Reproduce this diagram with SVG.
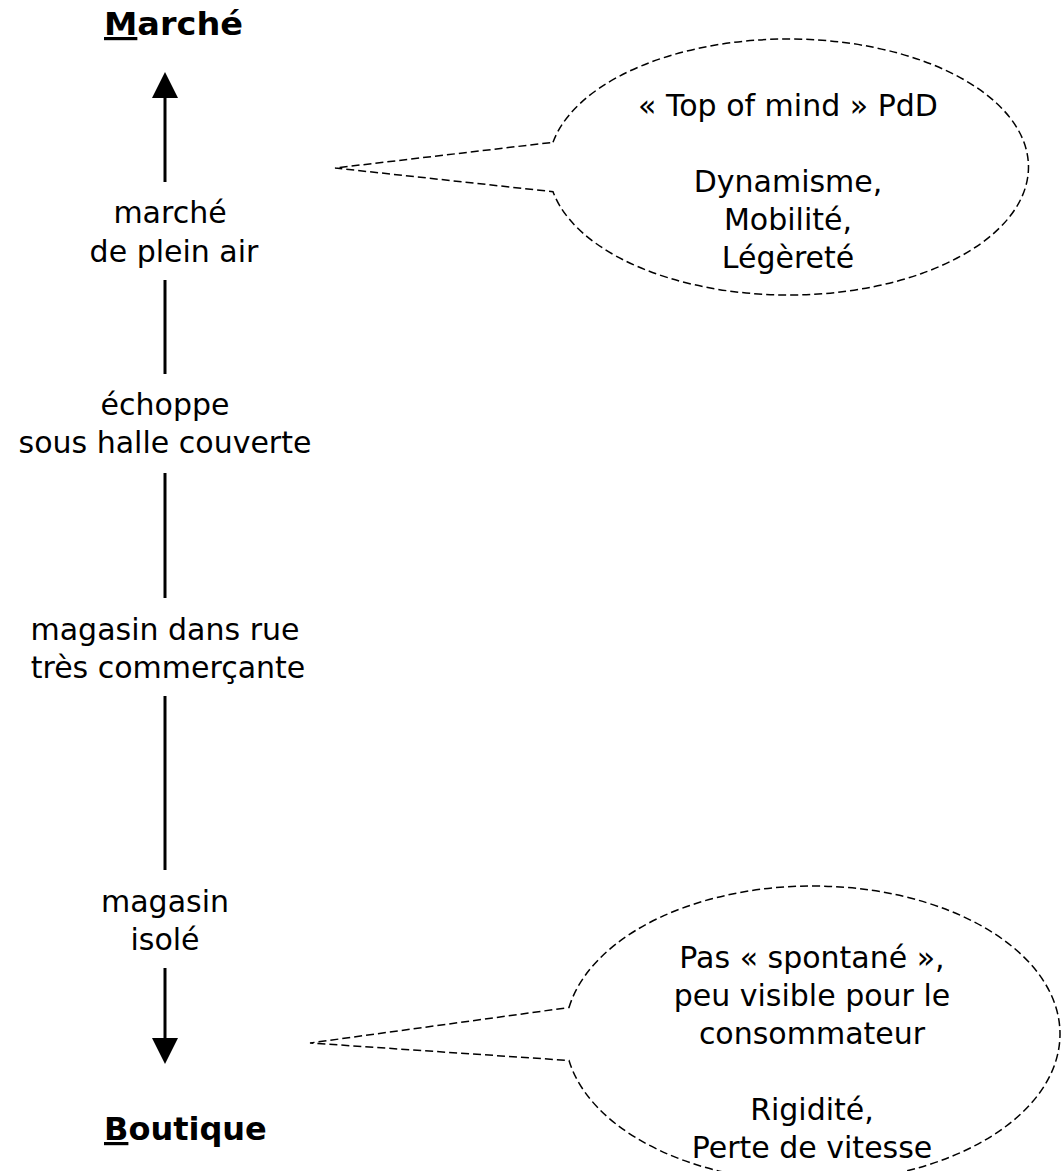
<svg xmlns="http://www.w3.org/2000/svg" width="1061" height="1171" viewBox="0 0 1061 1171">
  <style>
    text { font-family: "DejaVu Sans", "Liberation Sans", sans-serif; fill: #000; }
    .title { font-size: 32px; font-weight: bold; }
    .label { font-size: 30px; text-anchor: middle; }
    .ul { text-decoration: underline; }
    .axis { stroke: #000; stroke-width: 3; fill: none; }
    .bubble { stroke: #000; stroke-width: 1.5; stroke-dasharray: 8 4; fill: none; }
  </style>
  <defs>
    <marker id="arrow" markerUnits="userSpaceOnUse" viewBox="0 -13 26 26" refX="0" refY="0" markerWidth="26" markerHeight="26" orient="auto-start-reverse">
      <path d="M0,-13 L26,0 L0,13 Z" fill="#000"/>
    </marker>
  </defs>
  <rect width="1061" height="1171" fill="#fff"/>

  <g id="connectors">
    <line class="axis" x1="165" y1="98" x2="165" y2="182" marker-start="url(#arrow)"/>
    <line class="axis" x1="165" y1="280" x2="165" y2="374"/>
    <line class="axis" x1="165" y1="473" x2="165" y2="598"/>
    <line class="axis" x1="165" y1="696" x2="165" y2="870"/>
    <line class="axis" x1="165" y1="968" x2="165" y2="1038" marker-end="url(#arrow)"/>
  </g>

  <g id="title-marche">
    <text class="title" x="104" y="35" textLength="139" lengthAdjust="spacingAndGlyphs"><tspan class="ul">M</tspan>arché</text>
  </g>
  <g id="title-boutique">
    <text class="title" x="104" y="1140"><tspan class="ul">B</tspan>outique</text>
  </g>

  <g id="node-plein-air">
    <text class="label" x="170" y="223">marché</text>
    <text class="label" x="174" y="262">de plein air</text>
  </g>
  <g id="node-echoppe">
    <text class="label" x="165" y="415">échoppe</text>
    <text class="label" x="165" y="453">sous halle couverte</text>
  </g>
  <g id="node-rue">
    <text class="label" x="165" y="640">magasin dans rue</text>
    <text class="label" x="168" y="678">très commerçante</text>
  </g>
  <g id="node-isole">
    <text class="label" x="165" y="912">magasin</text>
    <text class="label" x="165" y="950">isolé</text>
  </g>

  <g id="bubble-marche">
    <path class="bubble" d="M553,142.3 A240,128 0 1 1 553,191.7 L335,168 Z"/>
    <text class="label" x="788" y="116">« Top of mind » PdD</text>
    <text class="label" x="788" y="192">Dynamisme,</text>
    <text class="label" x="788" y="230">Mobilité,</text>
    <text class="label" x="788" y="268">Légèreté</text>
  </g>

  <g id="bubble-boutique">
    <path class="bubble" d="M569,1007.5 A247.5,148 0 1 1 569,1060.5 L310,1043 Z"/>
    <text class="label" x="812" y="968">Pas « spontané »,</text>
    <text class="label" x="812" y="1006">peu visible pour le</text>
    <text class="label" x="812" y="1044">consommateur</text>
    <text class="label" x="812" y="1120">Rigidité,</text>
    <text class="label" x="812" y="1158">Perte de vitesse</text>
  </g>
</svg>
